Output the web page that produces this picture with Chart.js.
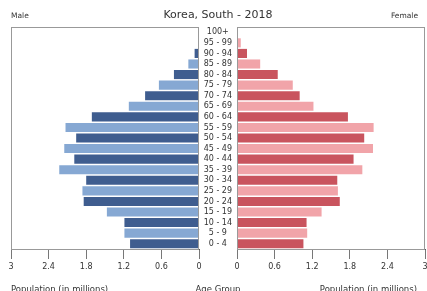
<!DOCTYPE html>
<html>
<head>
<meta charset="utf-8">
<script src="https://cdn.jsdelivr.net/npm/chart.js@4"></script>
<style>
  body { margin: 0; width: 427px; height: 291px; overflow: hidden; background: #fff; position: relative; font-family: "DejaVu Sans", sans-serif; }
  canvas { position: absolute; top: 0; left: 0; }
  .txt { position: absolute; color: #333; white-space: nowrap; line-height: 10px; }
</style>
</head>
<body>
<canvas id="maleChart" width="427" height="291" style="width:427px;height:291px"></canvas>
<canvas id="femaleChart" width="435" height="291" style="width:435px;height:291px"></canvas>

<div class="txt" style="left:0;width:436px;top:10px;text-align:center;font-size:11px;">Korea, South - 2018</div>
<div class="txt" style="left:11px;top:11px;font-size:7.5px;">Male</div>
<div class="txt" style="right:9px;top:11px;font-size:7.5px;">Female</div>
<div class="txt" style="left:11px;top:284px;font-size:8.5px;">Population (in millions)</div>
<div class="txt" style="left:0;width:436px;top:284px;text-align:center;font-size:8.5px;">Age Group</div>
<div class="txt" style="right:10px;top:284px;font-size:8.5px;">Population (in millions)</div>

<script>
// Age groups, bottom (0 - 4) to top (100+)
const ageGroups = ['0 - 4', '5 - 9', '10 - 14', '15 - 19', '20 - 24', '25 - 29', '30 - 34',
  '35 - 39', '40 - 44', '45 - 49', '50 - 54', '55 - 59', '60 - 64', '65 - 69',
  '70 - 74', '75 - 79', '80 - 84', '85 - 89', '90 - 94', '95 - 99', '100+'];

// Population in millions
const malePop = [1.10, 1.19, 1.19, 1.47, 1.84, 1.86, 1.80, 2.23, 1.99, 2.15, 1.96,
  2.13, 1.71, 1.12, 0.86, 0.64, 0.40, 0.17, 0.07, 0.01, 0.00];
const femalePop = [1.06, 1.12, 1.11, 1.35, 1.64, 1.61, 1.60, 2.00, 1.86, 2.17, 2.03,
  2.18, 1.77, 1.22, 1.00, 0.89, 0.65, 0.37, 0.16, 0.06, 0.01];

const popTicks = [0, 0.6, 1.2, 1.8, 2.4, 3];

const maleColors = ['#3f5d8f', '#86a8d3'];
const femaleColors = ['#c9545e', '#f1a4a9'];

// draw a box round the plot area
const frame = {
  id: 'frame',
  afterDraw(chart) {
    const a = chart.chartArea;
    const ctx = chart.ctx;
    ctx.save();
    ctx.strokeStyle = '#999';
    ctx.lineWidth = 1;
    ctx.strokeRect(Math.round(a.left) + 0.5, Math.round(a.top) + 0.5,
      Math.round(a.right - a.left) - 1, Math.round(a.bottom - a.top));
    ctx.restore();
  }
};

function xScale(reverse) {
  return {
    min: 0,
    max: 3,
    reverse: reverse,
    afterBuildTicks: s => { s.ticks = popTicks.map(v => ({ value: v })); },
    afterFit: s => { s.height = 42; },
    grid: { drawOnChartArea: false, drawTicks: true, tickLength: 10, color: '#777' },
    border: { display: true, color: '#555' },
    ticks: {
      padding: 3,
      color: '#333',
      font: { family: 'DejaVu Sans', size: 8 },
      callback: v => Number(v.toFixed(1)).toString()
    }
  };
}

function barDataset(values, colors) {
  return {
    data: values,
    backgroundColor: values.map((v, i) => colors[i % 2]),
    borderWidth: 0,
    barPercentage: 0.86,
    categoryPercentage: 1
  };
}

Chart.defaults.font.family = 'DejaVu Sans';

new Chart(document.getElementById('maleChart'), {
  type: 'bar',
  data: { labels: ageGroups, datasets: [barDataset(malePop, maleColors)] },
  plugins: [frame],
  options: {
    responsive: false,
    animation: false,
    indexAxis: 'y',
    layout: { padding: { left: 11, right: 228, top: 27, bottom: 0 } },
    plugins: { legend: { display: false }, tooltip: { enabled: false } },
    scales: {
      x: xScale(true),
      y: { reverse: true, display: false }
    }
  }
});

new Chart(document.getElementById('femaleChart'), {
  type: 'bar',
  data: { labels: ageGroups, datasets: [barDataset(femalePop, femaleColors)] },
  plugins: [frame],
  options: {
    responsive: false,
    animation: false,
    indexAxis: 'y',
    layout: { padding: { left: 199, right: 10, top: 27, bottom: 0 } },
    plugins: { legend: { display: false }, tooltip: { enabled: false } },
    scales: {
      x: xScale(false),
      y: {
        reverse: true,
        position: 'left',
        afterFit: s => { s.width = 38; },
        grid: { display: false, drawTicks: false, tickLength: 0 },
        border: { display: true, color: '#999' },
        ticks: {
          autoSkip: false,
          crossAlign: 'center',
          padding: 5,
          color: '#333',
          font: { family: 'DejaVu Sans', size: 8 }
        }
      }
    }
  }
});
</script>
</body>
</html>
